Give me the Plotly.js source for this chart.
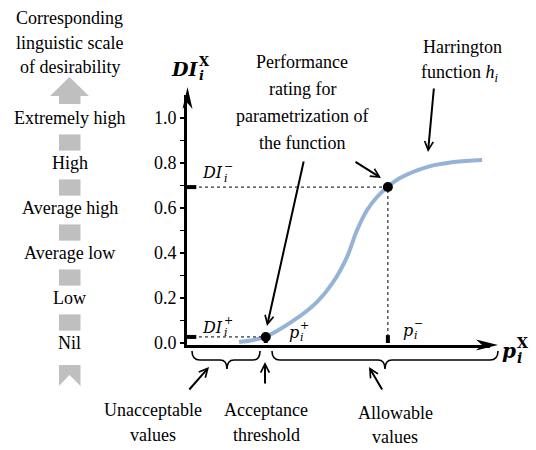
<!DOCTYPE html>
<html><head><meta charset="utf-8">
<script src="https://cdn.plot.ly/plotly-3.0.1.min.js"></script>
<style>html,body{margin:0;padding:0;background:#fff}</style>
</head><body><div id="chart" style="width:536px;height:450px"></div>
<script>
// ---- data ----
const curveX = [1.68, 2.1, 2.54, 3.42, 4.19, 4.71, 5.16, 5.48, 5.81, 6.13, 6.47, 6.87, 7.74, 8.61, 9.52];
const curveY = [0.004, 0.012, 0.028, 0.098, 0.182, 0.27, 0.382, 0.5, 0.591, 0.649, 0.693, 0.733, 0.782, 0.804, 0.813];
const ratingX = [2.54, 6.48];
const ratingY = [0.027, 0.693];
const yTickVals = [0, 0.2, 0.4, 0.6, 0.8, 1.0];
const yTickText = ['0.0', '0.2', '0.4', '0.6', '0.8', '1.0'];
const yMinorVals = [0.1, 0.3, 0.5, 0.7, 0.9];
const scaleLabels = ['Nil', 'Low', 'Average low', 'Average high', 'High', 'Extremely high'];
const scaleTitle = ['Corresponding', 'linguistic scale', 'of desirability'];

// ---- helpers (pixel -> paper) ----
const W = 536, H = 450;
const px = x => x / W;
const py = y => 1 - y / H;
const P = (x, y) => px(x) + ',' + py(y);
const poly = pts => 'M' + pts.map(p => P(p[0], p[1])).join('L') + 'Z';

const SERIF = 'Liberation Serif';
const MATH = 'DejaVu Serif';
const FS = 18;
const BLACK = '#000';
const GRAY = '#bfbfbf';

const annotations = [];
const shapes = [];

function txt(x, y, text, size, opts) {
  annotations.push(Object.assign({
    xref: 'paper', yref: 'paper', x: px(x), y: py(y), text: text,
    showarrow: false, xanchor: 'center', yanchor: 'middle', borderpad: 0,
    font: {family: SERIF, size: size || FS, color: BLACK}
  }, opts || {}));
}
function math(xr, yc, base, sub, sup, size, bold) {
  const s = size, ss = Math.round(size * 0.68);
  const wrap = t => bold ? '<b><i>' + t + '</i></b>' : '<i>' + t + '</i>';
  txt(xr, yc, wrap(base), s, {xanchor: 'right', font: {family: MATH, size: s, color: BLACK}});
  txt(xr - 1, yc + s * 0.36, wrap(sub), ss, {xanchor: 'left', font: {family: MATH, size: ss, color: BLACK}});
  txt(xr - 1, yc - s * 0.4, bold ? '<b>' + sup + '</b>' : sup, ss, {xanchor: 'left', font: {family: MATH, size: ss, color: BLACK}});
}
function arrow(tx, ty, sx, sy) {
  annotations.push({
    xref: 'paper', yref: 'paper', x: px(tx), y: py(ty), ax: sx - tx, ay: sy - ty,
    axref: 'pixel', ayref: 'pixel', text: '', showarrow: true,
    arrowhead: 5, arrowsize: 0.85, arrowwidth: 2, arrowcolor: BLACK, standoff: 0
  });
}

// ---- left linguistic scale ----
scaleTitle.forEach((t, i) => txt(69.5, 18 + i * 24.5, t, FS));
scaleLabels.forEach((t, i) => annotations.push({
  xref: 'paper', yref: 'y', x: px(69.5), y: yTickVals[i], text: t, showarrow: false,
  xanchor: 'center', yanchor: 'middle', font: {family: SERIF, size: FS, color: BLACK}
}));
yMinorVals.forEach(v => shapes.push({
  type: 'rect', xref: 'paper', yref: 'y', x0: px(59), x1: px(80.5),
  y0: v - 0.045, y1: v + 0.027, fillcolor: GRAY, line: {width: 0}
}));
shapes.push({type: 'path', xref: 'paper', yref: 'paper', fillcolor: GRAY, line: {width: 0},
  path: poly([[59, 104], [59, 96], [50, 96], [69.5, 77], [89, 96], [80.5, 96], [80.5, 104]])});
shapes.push({type: 'path', xref: 'paper', yref: 'paper', fillcolor: GRAY, line: {width: 0},
  path: poly([[59, 365], [80.5, 365], [80.5, 386], [69.5, 375], [59, 386]])});

// ---- axis arrow heads ----
shapes.push({type: 'path', xref: 'paper', yref: 'paper', fillcolor: BLACK, line: {width: 0},
  path: poly([[498, 345], [476, 339.5], [482, 345], [476, 350.5]])});
shapes.push({type: 'path', xref: 'paper', yref: 'paper', fillcolor: BLACK, line: {width: 0},
  path: poly([[187.5, 87], [182.5, 109], [187.5, 103], [192.5, 109]])});

// ---- guide lines & markers on axes ----
ratingX.forEach((xv, i) => {
  shapes.push({type: 'line', xref: 'x', yref: 'y', x0: 0, x1: xv, y0: ratingY[i], y1: ratingY[i],
    line: {color: BLACK, width: 1, dash: 'dot'}});
  shapes.push({type: 'line', xref: 'x', yref: 'y', x0: 0, x1: 0.3, y0: ratingY[i], y1: ratingY[i],
    line: {color: BLACK, width: 4}});
  shapes.push({type: 'line', xref: 'x', yref: 'y', x0: xv, x1: xv, y0: 0, y1: 0.035,
    line: {color: BLACK, width: 4}});
});
shapes.push({type: 'line', xref: 'x', yref: 'y', x0: ratingX[1], x1: ratingX[1], y0: 0, y1: ratingY[1],
  line: {color: BLACK, width: 1, dash: 'dot'}});

// ---- braces ----
const braceL = `M${P(192, 351)} Q${P(192, 360)} ${P(200, 360)} L${P(220, 360)} Q${P(227, 360)} ${P(227, 369)} Q${P(227, 360)} ${P(234, 360)} L${P(253, 360)} Q${P(260, 360)} ${P(260, 351)}`;
const braceR = `M${P(272, 351)} Q${P(272, 360)} ${P(280, 360)} L${P(378, 360)} Q${P(385, 360)} ${P(385, 369)} Q${P(385, 360)} ${P(392, 360)} L${P(490, 360)} Q${P(498, 360)} ${P(498, 351)}`;
[braceL, braceR].forEach(p => shapes.push({type: 'path', xref: 'paper', yref: 'paper', path: p,
  line: {color: BLACK, width: 1.6}}));

// ---- texts ----
['Performance', 'rating for', 'parametrization of', 'the function'].forEach((t, i) =>
  txt(302, 62 + i * 27, t, FS));
txt(462, 47, 'Harrington', FS);
txt(460, 74, 'function <i>h</i><sub><i>i</i></sub>', FS);
txt(153, 410, 'Unacceptable', FS); txt(153, 435, 'values', FS);
txt(266, 410, 'Acceptance', FS); txt(266, 435, 'threshold', FS);
txt(395, 413, 'Allowable', FS); txt(395, 437, 'values', FS);

math(224, 173, 'DI', 'i', '−', 16, false);
math(224, 327, 'DI', 'i', '+', 16, false);
math(300, 332, 'p', 'i', '+', 16, false);
math(414, 330, 'p', 'i', '−', 16, false);
math(199, 69, 'DI', 'i', 'X', 19, true);
math(517, 351, 'p', 'i', 'X', 20, true);

// ---- callout arrows ----
arrow(428, 152, 434, 87);
arrow(267, 326, 304, 160);
arrow(381, 178, 354, 161);
arrow(209, 367, 188, 391);
arrow(265, 362, 265, 385);
arrow(369, 367, 383, 391);

const traces = [
  {x: curveX, y: curveY, type: 'scatter', mode: 'lines',
   line: {color: '#95B3D7', width: 4, shape: 'spline', smoothing: 1}, hoverinfo: 'skip', cliponaxis: false},
  {x: ratingX, y: ratingY, type: 'scatter', mode: 'markers',
   marker: {color: BLACK, size: 10}, hoverinfo: 'skip', cliponaxis: false}
];

const layout = {
  width: W, height: H, margin: {l: 0, r: 0, t: 0, b: 0},
  font: {family: SERIF, color: BLACK},
  paper_bgcolor: '#fff', plot_bgcolor: 'rgba(0,0,0,0)', showlegend: false,
  xaxis: {domain: [187 / W, 490 / W], range: [0, 303 / 31], showline: true, linewidth: 3, linecolor: BLACK,
    showgrid: false, zeroline: false, showticklabels: false, ticks: '', fixedrange: true},
  yaxis: {domain: [1 - 345 / H, 1 - 95 / H], range: [-2 / 225, 248 / 225], showline: true, linewidth: 3,
    linecolor: BLACK, showgrid: false, zeroline: false, tickmode: 'array', tickvals: yTickVals, ticktext: yTickText,
    ticks: 'outside', ticklen: 4, tickwidth: 1.5, tickcolor: BLACK,
    minor: {tickmode: 'array', tickvals: yMinorVals, ticks: 'outside', ticklen: 4, tickwidth: 1.5, tickcolor: BLACK},
    tickfont: {family: SERIF, size: 18, color: BLACK}, fixedrange: true},
  shapes: shapes, annotations: annotations
};

Plotly.newPlot('chart', traces, layout, {displayModeBar: false, staticPlot: true});
</script></body></html>
